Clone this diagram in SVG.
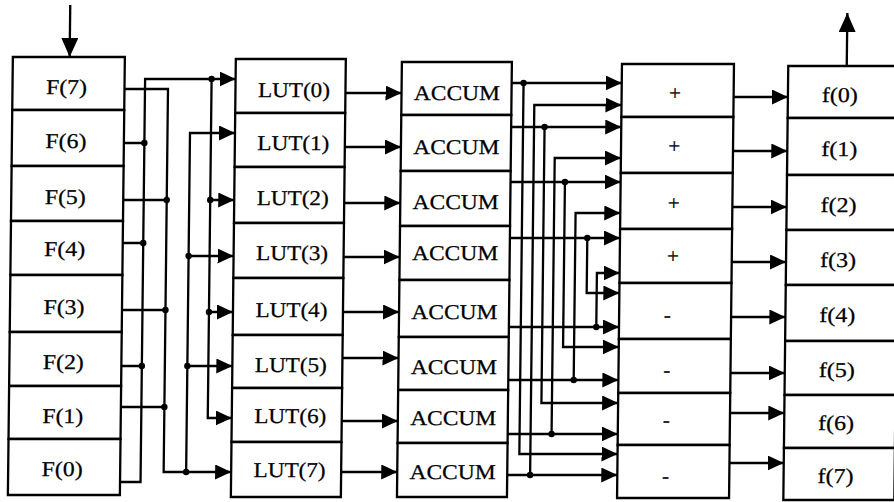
<svg xmlns="http://www.w3.org/2000/svg" width="894" height="502" viewBox="0 0 894 502">
<style>
.box{fill:#fff;stroke:#000;stroke-width:2.3}
.lbl{font-family:"Liberation Serif","Times New Roman",serif;font-size:21px;fill:#000;stroke:#000;stroke-width:0.25;text-anchor:middle}
.w{fill:none;stroke:#000;stroke-width:2.3;stroke-linejoin:miter}
.a{marker-end:url(#ah)}
.dot{fill:#000}
</style>
<defs>
<marker id="ah" markerUnits="userSpaceOnUse" markerWidth="18" markerHeight="16" refX="16" refY="7.5" orient="auto"><path d="M0,0 L16,7.5 L0,15 Z" fill="#000"/></marker>
<marker id="big" markerUnits="userSpaceOnUse" markerWidth="20" markerHeight="18" refX="19" refY="8.5" orient="auto"><path d="M0,0 L19,8.5 L0,17 Z" fill="#000"/></marker>
</defs>
<rect width="894" height="502" fill="#fff"/>
<g transform="skewX(-0.65)">
<g id="F-column">
<g id="F7"><rect class="box" x="13.5" y="57" width="112" height="53"/><text class="lbl" x="67.5" y="94.5" textLength="41" lengthAdjust="spacingAndGlyphs">F(7)</text></g>
<g id="F6"><rect class="box" x="13.5" y="110" width="112" height="56"/><text class="lbl" x="67.5" y="148.5" textLength="41" lengthAdjust="spacingAndGlyphs">F(6)</text></g>
<g id="F5"><rect class="box" x="13.5" y="166" width="112" height="55"/><text class="lbl" x="67.5" y="204.5" textLength="41" lengthAdjust="spacingAndGlyphs">F(5)</text></g>
<g id="F4"><rect class="box" x="13.5" y="221" width="112" height="54"/><text class="lbl" x="67.5" y="256.5" textLength="41" lengthAdjust="spacingAndGlyphs">F(4)</text></g>
<g id="F3"><rect class="box" x="13.5" y="275" width="112" height="57"/><text class="lbl" x="67.5" y="314.5" textLength="41" lengthAdjust="spacingAndGlyphs">F(3)</text></g>
<g id="F2"><rect class="box" x="13.5" y="332" width="112" height="54"/><text class="lbl" x="67.5" y="369.5" textLength="41" lengthAdjust="spacingAndGlyphs">F(2)</text></g>
<g id="F1"><rect class="box" x="13.5" y="386" width="112" height="53"/><text class="lbl" x="67.5" y="423.5" textLength="41" lengthAdjust="spacingAndGlyphs">F(1)</text></g>
<g id="F0"><rect class="box" x="13.5" y="439" width="112" height="56"/><text class="lbl" x="67.5" y="476.5" textLength="41" lengthAdjust="spacingAndGlyphs">F(0)</text></g>
</g>
<g id="LUT-column">
<g id="LUT0"><rect class="box" x="236.5" y="59" width="110" height="54"/><text class="lbl" x="295" y="97.5" textLength="72" lengthAdjust="spacingAndGlyphs">LUT(0)</text></g>
<g id="LUT1"><rect class="box" x="236.5" y="113" width="110" height="54"/><text class="lbl" x="295" y="150.5" textLength="72" lengthAdjust="spacingAndGlyphs">LUT(1)</text></g>
<g id="LUT2"><rect class="box" x="236.5" y="167" width="110" height="56"/><text class="lbl" x="295" y="205.5" textLength="72" lengthAdjust="spacingAndGlyphs">LUT(2)</text></g>
<g id="LUT3"><rect class="box" x="236.5" y="223" width="110" height="55"/><text class="lbl" x="295" y="260.5" textLength="72" lengthAdjust="spacingAndGlyphs">LUT(3)</text></g>
<g id="LUT4"><rect class="box" x="236.5" y="278" width="110" height="57"/><text class="lbl" x="295" y="317.5" textLength="72" lengthAdjust="spacingAndGlyphs">LUT(4)</text></g>
<g id="LUT5"><rect class="box" x="236.5" y="335" width="110" height="53"/><text class="lbl" x="295" y="372.5" textLength="72" lengthAdjust="spacingAndGlyphs">LUT(5)</text></g>
<g id="LUT6"><rect class="box" x="236.5" y="388" width="110" height="54"/><text class="lbl" x="295" y="423.5" textLength="72" lengthAdjust="spacingAndGlyphs">LUT(6)</text></g>
<g id="LUT7"><rect class="box" x="236.5" y="442" width="110" height="55"/><text class="lbl" x="295" y="477.5" textLength="72" lengthAdjust="spacingAndGlyphs">LUT(7)</text></g>
</g>
<g id="ACCUM-column">
<g id="ACCUM0"><rect class="box" x="402.6" y="62" width="110" height="53"/><text class="lbl" x="458" y="100" textLength="86" lengthAdjust="spacingAndGlyphs">ACCUM</text></g>
<g id="ACCUM1"><rect class="box" x="402.6" y="115" width="110" height="56"/><text class="lbl" x="458" y="154" textLength="86" lengthAdjust="spacingAndGlyphs">ACCUM</text></g>
<g id="ACCUM2"><rect class="box" x="402.6" y="171" width="110" height="55"/><text class="lbl" x="458" y="209" textLength="86" lengthAdjust="spacingAndGlyphs">ACCUM</text></g>
<g id="ACCUM3"><rect class="box" x="402.6" y="226" width="110" height="54"/><text class="lbl" x="458" y="260.5" textLength="86" lengthAdjust="spacingAndGlyphs">ACCUM</text></g>
<g id="ACCUM4"><rect class="box" x="402.6" y="280" width="110" height="57"/><text class="lbl" x="458" y="319" textLength="86" lengthAdjust="spacingAndGlyphs">ACCUM</text></g>
<g id="ACCUM5"><rect class="box" x="402.6" y="337" width="110" height="53"/><text class="lbl" x="458" y="374" textLength="86" lengthAdjust="spacingAndGlyphs">ACCUM</text></g>
<g id="ACCUM6"><rect class="box" x="402.6" y="390" width="110" height="53"/><text class="lbl" x="458" y="425" textLength="86" lengthAdjust="spacingAndGlyphs">ACCUM</text></g>
<g id="ACCUM7"><rect class="box" x="402.6" y="443" width="110" height="54"/><text class="lbl" x="458" y="479" textLength="86" lengthAdjust="spacingAndGlyphs">ACCUM</text></g>
</g>
<g id="addsub-column">
<g id="AS0"><rect class="box" x="622.7" y="64" width="112" height="53"/><text class="lbl" x="676" y="100.5">+</text></g>
<g id="AS1"><rect class="box" x="622.7" y="117" width="112" height="56"/><text class="lbl" x="676" y="153.5">+</text></g>
<g id="AS2"><rect class="box" x="622.7" y="173" width="112" height="56"/><text class="lbl" x="676" y="210.5">+</text></g>
<g id="AS3"><rect class="box" x="622.7" y="229" width="112" height="54"/><text class="lbl" x="676" y="263.5">+</text></g>
<g id="AS4"><rect class="box" x="622.7" y="283" width="112" height="56"/><text class="lbl" x="671" y="322.5">-</text></g>
<g id="AS5"><rect class="box" x="622.7" y="339" width="112" height="54"/><text class="lbl" x="671" y="377.5">-</text></g>
<g id="AS6"><rect class="box" x="622.7" y="393" width="112" height="52"/><text class="lbl" x="671" y="427.5">-</text></g>
<g id="AS7"><rect class="box" x="622.7" y="445" width="112" height="53"/><text class="lbl" x="671" y="483.5">-</text></g>
</g>
<g id="f-column">
<g id="f0"><rect class="box" x="789" y="66" width="111" height="52"/><text class="lbl" x="841" y="102.5" textLength="36" lengthAdjust="spacingAndGlyphs">f(0)</text></g>
<g id="f1"><rect class="box" x="789" y="118" width="111" height="57"/><text class="lbl" x="841" y="156.5" textLength="36" lengthAdjust="spacingAndGlyphs">f(1)</text></g>
<g id="f2"><rect class="box" x="789" y="175" width="111" height="55"/><text class="lbl" x="841" y="212.5" textLength="36" lengthAdjust="spacingAndGlyphs">f(2)</text></g>
<g id="f3"><rect class="box" x="789" y="230" width="111" height="55"/><text class="lbl" x="841" y="267.5" textLength="36" lengthAdjust="spacingAndGlyphs">f(3)</text></g>
<g id="f4"><rect class="box" x="789" y="285" width="111" height="56"/><text class="lbl" x="841" y="322.5" textLength="36" lengthAdjust="spacingAndGlyphs">f(4)</text></g>
<g id="f5"><rect class="box" x="789" y="341" width="111" height="54"/><text class="lbl" x="841" y="377.5" textLength="36" lengthAdjust="spacingAndGlyphs">f(5)</text></g>
<g id="f6"><rect class="box" x="789" y="395" width="111" height="53"/><text class="lbl" x="841" y="430.5" textLength="36" lengthAdjust="spacingAndGlyphs">f(6)</text></g>
<g id="f7"><rect class="box" x="789" y="448" width="111" height="52"/><text class="lbl" x="841" y="483.5" textLength="36" lengthAdjust="spacingAndGlyphs">f(7)</text></g>
</g>
<g id="connectors">
<path class="w" d="M70.3,5 V57" marker-end="url(#big)"/>
<path class="w" d="M847.5,66 V13" marker-end="url(#big)"/>
<path class="w a" d="M125.5,89 H169 V472 H236.5"/>
<path class="w a" d="M125.5,482 H146 V79 H236.5"/>
<path class="w" d="M125.5,143 H146 M125.5,243 H146 M125.5,366 H146"/>
<path class="w" d="M125.5,200 H169 M125.5,310 H169 M125.5,407 H169"/>
<path class="w a" d="M212.5,79 V418 H236.5"/>
<path class="w a" d="M212.5,200 H236.5"/>
<path class="w a" d="M212.5,312 H236.5"/>
<path class="w a" d="M191.5,472 V133 H236.5"/>
<path class="w a" d="M191.5,256 H236.5"/>
<path class="w a" d="M191.5,366 H236.5"/>
<circle class="dot" cx="146" cy="143" r="3.2"/><circle class="dot" cx="146" cy="243" r="3.2"/><circle class="dot" cx="146" cy="366" r="3.2"/>
<circle class="dot" cx="169" cy="200" r="3.2"/><circle class="dot" cx="169" cy="310" r="3.2"/><circle class="dot" cx="169" cy="407" r="3.2"/>
<circle class="dot" cx="212.5" cy="79" r="3.2"/><circle class="dot" cx="212.5" cy="200" r="3.2"/><circle class="dot" cx="212.5" cy="312" r="3.2"/>
<circle class="dot" cx="191.5" cy="256" r="3.2"/><circle class="dot" cx="191.5" cy="366" r="3.2"/><circle class="dot" cx="191.5" cy="472" r="3.2"/>
<path class="w a" d="M346.5,93 H402.6"/>
<path class="w a" d="M346.5,147 H402.6"/>
<path class="w a" d="M346.5,203 H402.6"/>
<path class="w a" d="M346.5,257 H402.6"/>
<path class="w a" d="M346.5,312 H402.6"/>
<path class="w a" d="M346.5,358 H402.6"/>
<path class="w a" d="M346.5,421 H402.6"/>
<path class="w a" d="M346.5,472 H402.6"/>
<path class="w a" d="M512.6,83 H622.7"/>
<path class="w a" d="M524.5,83 V454 H622.7"/>
<path class="w a" d="M512.6,475 H622.7"/>
<path class="w a" d="M535.5,475 V105 H622.7"/>
<path class="w a" d="M512.6,127 H622.7"/>
<path class="w a" d="M546,127 V403 H622.7"/>
<path class="w a" d="M512.6,434 H622.7"/>
<path class="w a" d="M556.5,434 V158 H622.7"/>
<path class="w a" d="M512.6,182 H622.7"/>
<path class="w a" d="M567,182 V347 H622.7"/>
<path class="w a" d="M512.6,380 H622.7"/>
<path class="w a" d="M578,380 V213 H622.7"/>
<path class="w a" d="M512.6,238 H622.7"/>
<path class="w a" d="M590,238 V293 H622.7"/>
<path class="w a" d="M512.6,327 H622.7"/>
<path class="w a" d="M600,327 V273 H622.7"/>
<circle class="dot" cx="524.5" cy="83" r="3.2"/><circle class="dot" cx="535.5" cy="475" r="3.2"/>
<circle class="dot" cx="546" cy="127" r="3.2"/><circle class="dot" cx="556.5" cy="434" r="3.2"/>
<circle class="dot" cx="567" cy="182" r="3.2"/><circle class="dot" cx="578" cy="380" r="3.2"/>
<circle class="dot" cx="590" cy="238" r="3.2"/><circle class="dot" cx="600" cy="327" r="3.2"/>
<path class="w a" d="M734.7,97 H789"/>
<path class="w a" d="M734.7,151 H789"/>
<path class="w a" d="M734.7,207 H789"/>
<path class="w a" d="M734.7,262 H789"/>
<path class="w a" d="M734.7,317 H789"/>
<path class="w a" d="M734.7,373 H789"/>
<path class="w a" d="M734.7,413 H789"/>
<path class="w a" d="M734.7,463 H789"/>
</g>
</g>
</svg>
